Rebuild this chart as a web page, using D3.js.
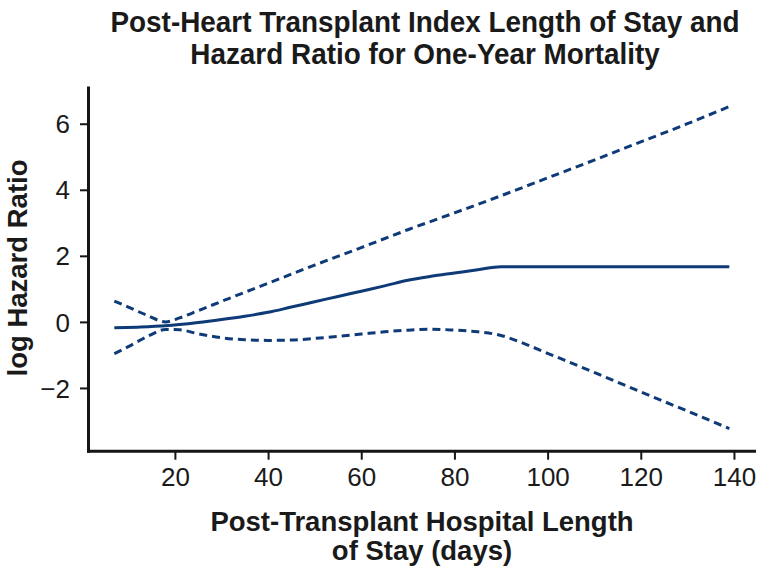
<!DOCTYPE html>
<html>
<head>
<meta charset="utf-8">
<script src="https://cdn.jsdelivr.net/npm/d3@7/dist/d3.min.js"></script>
<style>
  html, body { margin: 0; padding: 0; background: #fff; }
  svg text { font-family: "Liberation Sans", Arial, Helvetica, sans-serif; }
</style>
</head>
<body>
<svg id="chart" width="757" height="568"></svg>
<script>
// ---- data ----
const titleLines = ["Post-Heart Transplant Index Length of Stay and", "Hazard Ratio for One-Year Mortality"];
const xTitleLines = ["Post-Transplant Hospital Length", "of Stay (days)"];
const yTitle = "log Hazard Ratio";
const xTicks = [20, 40, 60, 80, 100, 120, 140];
const yTicks = [-2, 0, 2, 4, 6];

const estX = [7, 12, 18, 25, 30, 35, 40, 45, 50, 55, 60, 65, 70, 75, 80, 85, 90, 100, 110, 120, 130, 139];
const estY = [-0.18, -0.16, -0.12, -0.02, 0.07, 0.17, 0.29, 0.45, 0.61, 0.77, 0.93, 1.09, 1.26, 1.38, 1.48, 1.58, 1.67, 1.67, 1.67, 1.67, 1.67, 1.67];

const upX = [7, 10, 14, 18, 21, 25, 30, 40, 50, 60, 70, 80, 90, 100, 110, 120, 130, 139];
const upY = [0.63, 0.45, 0.2, 0.0, 0.12, 0.34, 0.62, 1.17, 1.72, 2.25, 2.79, 3.3, 3.82, 4.36, 4.9, 5.45, 6.0, 6.52];

const loX = [7, 10, 14, 18, 21, 25, 30, 35, 40, 45, 50, 55, 60, 65, 70, 75, 80, 85, 90, 95, 100, 110, 120, 130, 139];
const loY = [-0.96, -0.75, -0.45, -0.23, -0.24, -0.36, -0.48, -0.54, -0.56, -0.55, -0.5, -0.44, -0.37, -0.3, -0.25, -0.22, -0.25, -0.3, -0.41, -0.66, -0.95, -1.53, -2.12, -2.7, -3.23];

// ---- drawing ----
const svg = d3.select("#chart");
const lineColor = "#0e3a78";
const axisColor = "#151515";

const x = d3.scaleLinear().domain([1.35, 144.3]).range([88, 754]);
const y = d3.scaleLinear().domain([-3.9, 7.1]).range([450.7, 87.4]);

// axes
const xAxis = svg.append("g")
  .attr("transform", `translate(0,${y.range()[0]})`)
  .call(d3.axisBottom(x).tickValues(xTicks).tickSize(9).tickSizeOuter(0).tickPadding(8));
const yAxis = svg.append("g")
  .attr("transform", `translate(${x.range()[0]},0)`)
  .call(d3.axisLeft(y).tickValues(yTicks).tickSize(8).tickSizeOuter(0).tickPadding(10)
    .tickFormat(d => d < 0 ? "\u2212" + Math.abs(d) : d));

[xAxis, yAxis].forEach(g => {
  g.select(".domain").attr("stroke", axisColor).attr("stroke-width", 3).attr("stroke-linecap", "square");
  g.selectAll(".tick line").attr("stroke", axisColor).attr("stroke-width", 2);
  g.selectAll(".tick text").attr("fill", "#1a1a1a").attr("font-size", 26)
    .attr("font-family", "'Liberation Sans', Arial, sans-serif");
});
xAxis.selectAll(".tick text").attr("dy", "0.72em");
yAxis.selectAll(".tick text").attr("dy", "0.35em");

// lines
const line = d3.line().x(d => x(d[0])).y(d => y(d[1])).curve(d3.curveMonotoneX);
const pts = (xs, ys) => xs.map((v, i) => [v, ys[i]]);

svg.append("path").datum(pts(upX, upY)).attr("d", line)
  .attr("fill", "none").attr("stroke", lineColor).attr("stroke-width", 3).attr("stroke-dasharray", "8,5");
svg.append("path").datum(pts(loX, loY)).attr("d", line)
  .attr("fill", "none").attr("stroke", lineColor).attr("stroke-width", 3).attr("stroke-dasharray", "8,5");
svg.append("path").datum(pts(estX, estY)).attr("d", line)
  .attr("fill", "none").attr("stroke", lineColor).attr("stroke-width", 3);

// title (slightly condensed bold, as in the reference)
svg.append("text").attr("transform", "translate(425,32) scale(0.93,1)").attr("text-anchor", "middle")
  .attr("font-size", 30).attr("font-weight", "bold").attr("fill", "#1a1a1a").text(titleLines[0]);
svg.append("text").attr("transform", "translate(425,64) scale(0.93,1)").attr("text-anchor", "middle")
  .attr("font-size", 30).attr("font-weight", "bold").attr("fill", "#1a1a1a").text(titleLines[1]);

// x title
svg.append("text").attr("x", 422).attr("y", 531).attr("text-anchor", "middle")
  .attr("font-size", 27.5).attr("font-weight", "bold").attr("fill", "#1a1a1a").text(xTitleLines[0]);
svg.append("text").attr("x", 422).attr("y", 560).attr("text-anchor", "middle")
  .attr("font-size", 27.5).attr("font-weight", "bold").attr("fill", "#1a1a1a").text(xTitleLines[1]);

// y title
svg.append("text").attr("transform", "translate(27,268) rotate(-90)").attr("text-anchor", "middle")
  .attr("font-size", 27.5).attr("font-weight", "bold").attr("fill", "#1a1a1a").text(yTitle);
</script>
</body>
</html>
